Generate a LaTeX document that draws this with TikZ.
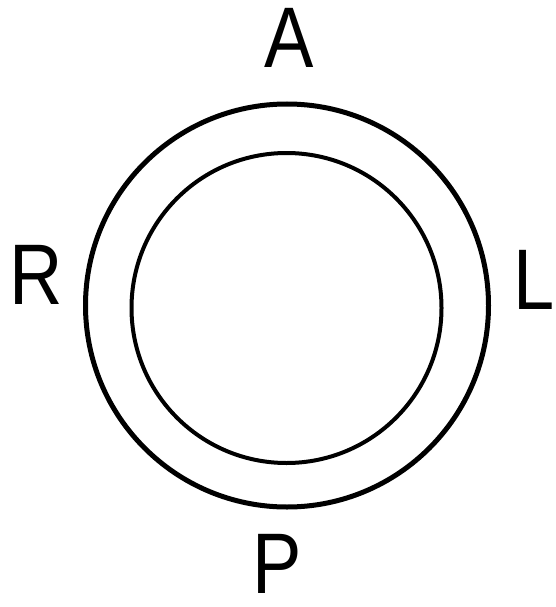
\documentclass[tikz,border=0pt]{standalone}
\usepackage{fontspec}
\setmainfont{Liberation Sans}
\newfontfamily\lblfont[FakeStretch=0.86]{Liberation Sans}
\begin{document}
\begin{tikzpicture}[x=1pt,y=-1pt,
  lbl/.style={inner sep=0pt,font=\lblfont\fontsize{86}{86}\selectfont}]
\useasboundingbox (0,0) rectangle (555,607);
\draw[line width=5pt] (287,305.5) circle (201.5);
\draw[line width=4pt] (286.5,308) circle (155);
\node[lbl] (a) at (289,38) {A};
\node[lbl] (r) at (36,275) {R};
\node[lbl] (l) at (534,280) {L};
\node[lbl] (p) at (277,564) {P};
\end{tikzpicture}
\end{document}
